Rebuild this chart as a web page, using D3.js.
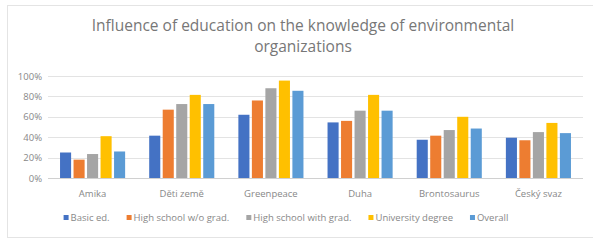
<!DOCTYPE html>
<html>
<head>
<meta charset="utf-8">
<script src="https://cdn.jsdelivr.net/npm/d3@7"></script>
<style>
  body { margin: 0; background: #fff; }
  svg { font-family: "Open Sans", sans-serif; }
</style>
</head>
<body>
<div id="chart"></div>
<script>
var width = 593, height = 241;
var margin = {top: 76, right: 10, bottom: 63, left: 48};

// data
var organizations = ["Amika", "Děti země", "Greenpeace", "Duha", "Brontosaurus", "Český svaz"];
var seriesNames = ["Basic ed.", "High school w/o grad.", "High school with grad.", "University degree", "Overall"];
var basicEd     = [25, 41.5, 62, 54.5, 37.5, 39.5];
var highNoGrad  = [18, 67, 76, 56, 41.5, 37];
var highGrad    = [23.5, 72.5, 88, 66, 47, 45];
var university  = [41, 81.5, 95.5, 81.5, 60, 54];
var overall     = [26, 72.5, 85.5, 66, 48.5, 44];
var yTicks = [0, 20, 40, 60, 80, 100];
var colors = ["#4472C4", "#ED7D31", "#A5A5A5", "#FFC000", "#5B9BD5"];

var allSeries = [basicEd, highNoGrad, highGrad, university, overall];

var svg = d3.select("#chart").append("svg")
    .attr("width", width)
    .attr("height", height);

// outer frame
svg.append("rect")
    .attr("x", 7.5).attr("y", 5.5)
    .attr("width", width)
    .attr("height", 232)
    .attr("fill", "#fff")
    .attr("stroke", "#e4e4e4");

// title, two lines
var titleLines = ["Influence of education on the knowledge of environmental", "organizations"];
svg.selectAll(".title")
    .data(titleLines)
    .enter().append("text")
    .attr("class", "title")
    .attr("x", 303)
    .attr("y", (d, i) => 31 + i * 21)
    .attr("text-anchor", "middle")
    .attr("font-size", 15.5)
    .attr("fill", "#777")
    .text(d => d);

var w = width - margin.left - margin.right;
var h = height - margin.top - margin.bottom;

var g = svg.append("g")
    .attr("transform", "translate(" + margin.left + "," + margin.top + ")");

var x0 = d3.scaleBand()
    .domain(organizations)
    .range([0, w])
    .paddingInner(0.27)
    .paddingOuter(0.135);

var x1 = d3.scaleBand()
    .domain(d3.range(seriesNames.length))
    .range([0, x0.bandwidth()])
    .paddingInner(0.18);

var y = d3.scaleLinear()
    .domain([0, 100])
    .range([h, 0]);

// gridlines
g.selectAll(".grid")
    .data(yTicks)
    .enter().append("line")
    .attr("class", "grid")
    .attr("x1", 0).attr("x2", w)
    .attr("y1", d => Math.round(y(d)) + 0.5)
    .attr("y2", d => Math.round(y(d)) + 0.5)
    .attr("stroke", d => d === 0 ? "#d0d0d0" : "#e3e3e3");

// y labels
g.selectAll(".ylab")
    .data(yTicks)
    .enter().append("text")
    .attr("x", -6)
    .attr("y", d => y(d) + 3.5)
    .attr("text-anchor", "end")
    .attr("font-size", 9.5)
    .attr("fill", "#888")
    .text(d => d + "%");

// bars
var groups = g.selectAll(".org")
    .data(organizations)
    .enter().append("g")
    .attr("class", "org")
    .attr("transform", d => "translate(" + x0(d) + ",0)");

groups.selectAll("rect")
    .data((d, i) => allSeries.map((s, j) => ({series: j, value: s[i]})))
    .enter().append("rect")
    .attr("x", d => x1(d.series))
    .attr("y", d => y(d.value))
    .attr("width", x1.bandwidth())
    .attr("height", d => h - y(d.value))
    .attr("fill", d => colors[d.series]);

// category labels
g.selectAll(".xlab")
    .data(organizations)
    .enter().append("text")
    .attr("x", d => x0(d) + x0.bandwidth() / 2)
    .attr("y", h + 19)
    .attr("text-anchor", "middle")
    .attr("font-size", 9.5)
    .attr("fill", "#888")
    .text(d => d);

// legend
var legend = svg.append("g").attr("transform", "translate(0,221)");
var lx = 0;
var items = legend.selectAll(".item")
    .data(seriesNames)
    .enter().append("g")
    .attr("class", "item");
items.append("rect")
    .attr("y", -6)
    .attr("width", 5).attr("height", 5)
    .attr("fill", (d, i) => colors[i]);
items.append("text")
    .attr("x", 7)
    .attr("y", 0)
    .attr("font-size", 9.5)
    .attr("fill", "#888")
    .text(d => d);
items.each(function() {
    var bw = this.getBBox().width;
    d3.select(this).attr("transform", "translate(" + lx + ",0)");
    lx += bw + 17;
});
var legendWidth = lx - 17;
legend.attr("transform", "translate(" + (286 - legendWidth / 2) + ",221)");
</script>
</body>
</html>
